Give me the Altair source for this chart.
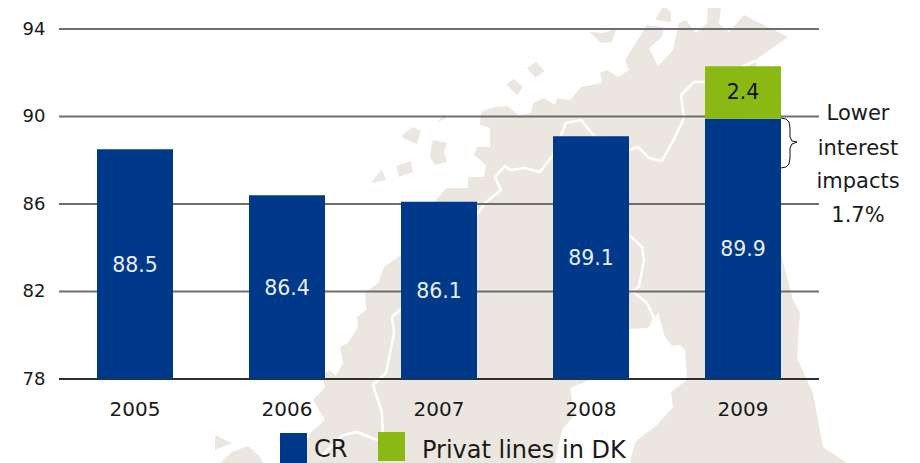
import altair as alt
import pandas as pd

years = ["2005", "2006", "2007", "2008", "2009"]
cr = [88.5, 86.4, 86.1, 89.1, 89.9]
dk = [None, None, None, None, 2.4]
ticks = [78, 82, 86, 90, 94]
note_lines = ["Lower", "interest", "impacts", "1.7%"]
NAVY, GREEN, LAND = "#00388A", "#8AB914", "#EBE7E0"
OX, OY = 59, 29
FONT = "DejaVu Sans"

mainland = [(788,37),(781,42),(758,58),(745,100),(765,170),(781,255),(793,300),(800,313),(797,358),(813,393),(823,447),(847,463),
 (630,463),(635,442),(657,425),(673,407),(671,392),(687,380),(685,350),(680,345),(672,346),(665,337),(658,312),(652,325),(647,328),(629,329),
 (590,380),(570,388),(575,415),(563,428),(558,447),(555,463),(300,463),(310,433),(325,420),(313,400),(325,387),(323,380),(325,373),(330,370),
 (336,376),(343,363),(340,347),(348,343),(358,327),(357,317),(366,310),(365,293),(378,283),(384,267),(401,255),(436,200),(446,188),(468,188),
 (468,177),(484,177),(486,165),(474,155),(477,147),(490,147),(490,128),(480,125),(481,112),(494,107),(508,106),(518,115),(531,113),(533,103),
 (544,98),(555,105),(557,98),(570,100),(581,87),(602,83),(600,73),(607,70),(618,77),(629,70),(625,60),(647,25),(664,27),(662,37),(649,48),
 (658,66),(673,50),(679,23),(686,20),(696,33),(707,23),(708,4),(721,5),(720,17),(718,23),(729,32),(744,15)]
islands = [
 [(436,123),(445,114),(446,118)],
 [(402,135),(413,127),(421,131),(417,144),(403,138)],
 [(433,140),(447,143),(444,152),(447,162),(435,165),(430,157),(431,148)],
 [(396,166),(411,161),(413,172),(399,177)],
 [(371,183),(382,169),(386,180)],
 [(506,84),(514,79),(523,87),(517,95)],
 [(527,68),(536,62),(545,71),(535,78)],
 [(590,32),(603,33),(616,29),(612,42),(601,43)],
 [(655,20),(664,5),(671,13),(671,22)],
 [(215,435),(232,443),(215,450)],
 [(220,463),(232,452),(248,446),(260,457),(263,463)],
]
borders = [
 [(758,60),(705,82),(694,82),(681,95),(684,118),(675,137),(662,161),(649,158),(638,147),(629,150),(610,148),(594,136),(581,120),(566,123),
  (553,155),(540,172),(525,168),(510,170),(505,166),(495,177),(501,190),(486,202),(420,290),(400,310),(392,317),(394,333),(386,373),(373,385),
  (382,413),(383,437),(377,440),(357,432),(343,435),(320,458)],
 [(629,235),(642,247),(644,260),(639,287),(632,291),(647,303),(654,318),(651,327)],
]
brace = [(781,118),(786,119),(789,122),(790,128),(790,137),(792,141),(797,142),(792,144),(790,148),(790,158),(789,164),(786,167),(781,168)]


def shift(pts):
    return [[x - OX, y - OY] for x, y in pts]


def polygon(pts):
    p = shift(pts)
    return {"type": "Feature", "properties": {}, "geometry": {"type": "Polygon", "coordinates": [p + [p[0]]]}}


def line(pts):
    return {"type": "Feature", "properties": {}, "geometry": {"type": "LineString", "coordinates": shift(pts)}}


def shapes(features, **mark):
    data = alt.InlineData(values={"type": "FeatureCollection", "features": features},
                          format=alt.DataFormat(type="json", property="features"))
    return alt.Chart(data).mark_geoshape(clip=False, **mark).project(type="identity", scale=1, translate=[0, 0])


land = shapes([polygon(mainland)] + [polygon(i) for i in islands], fill=LAND, stroke=None)
lines = shapes([line(b) for b in borders], fill=None, stroke="white", strokeWidth=2.5, strokeJoin="round")
brace_mark = shapes([line(brace)], fill=None, stroke="#111111", strokeWidth=1)

df = pd.DataFrame({"year": years, "cr": cr, "dk": dk})
x = alt.X("year:N", title=None, sort=years, scale=alt.Scale(paddingInner=0.5, paddingOuter=0.25),
          axis=alt.Axis(domain=False, ticks=False, labelAngle=0, labelFont=FONT, labelFontSize=20,
                        labelColor="#1a1a1a", labelPadding=20, zindex=1))
ys = alt.Scale(domain=[78, 94], nice=False, zero=False)
y_axis = alt.Axis(values=ticks, domain=False, ticks=False, grid=False, labelFont=FONT, labelFontSize=18,
                  labelColor="#1a1a1a", labelPadding=14, title=None, zindex=1)


def Y(field):
    return alt.Y(field, scale=ys, axis=y_axis, title=None)


grid = alt.Chart(pd.DataFrame({"t": [t for t in ticks if t != 78]})).mark_rule(color="#6e6e6e", strokeWidth=2).encode(y=Y("t:Q"))
axis0 = alt.Chart(pd.DataFrame({"t": [78]})).mark_rule(color="#2e2e2e", strokeWidth=2).encode(y=Y("t:Q"))

cr_bars = alt.Chart(df).transform_calculate(b="78").mark_bar(color=NAVY).encode(x=x, y=Y("cr:Q"), y2=alt.Y2("b:Q"))
dk_df = df.dropna(subset=["dk"])
dk_bars = alt.Chart(dk_df).transform_calculate(t="datum.cr+datum.dk").mark_bar(color=GREEN).encode(
    x=x, y=Y("cr:Q"), y2=alt.Y2("t:Q"))
cr_text = alt.Chart(df).transform_calculate(m="(78+datum.cr)/2", l="format(datum.cr,'.1f')").mark_text(
    color="#E8EEF6", font=FONT, fontSize=20.5, dy=1.5).encode(x=x, y=Y("m:Q"), text="l:N")
dk_text = alt.Chart(dk_df).transform_calculate(m="datum.cr+datum.dk/2", l="format(datum.dk,'.1f')").mark_text(
    color="#111111", font=FONT, fontSize=20.5, dy=1).encode(x=x, y=Y("m:Q"), text="l:N")

notes = alt.layer(*[
    alt.Chart(pd.DataFrame({"t": [s]})).mark_text(color="#1a1a1a", font=FONT, fontSize=21, align="center").encode(
        x=alt.value(858 - OX), y=alt.value(py - OY), text="t:N")
    for s, py in zip(note_lines, [114, 149, 182, 216])
])


def swatch(x0, x1, y0, y1, color):
    return alt.Chart(pd.DataFrame({"a": [0]})).mark_rect(color=color).encode(
        x=alt.value(x0 - OX), x2=alt.value(x1 - OX), y=alt.value(y0 - OY), y2=alt.value(y1 - OY))


def label(px, py, s):
    return alt.Chart(pd.DataFrame({"t": [s]})).mark_text(color="#1a1a1a", font=FONT, fontSize=24, align="left").encode(
        x=alt.value(px - OX), y=alt.value(py - OY), text="t:N")


legend = alt.layer(swatch(280, 307, 433, 463, NAVY), swatch(378, 405, 432, 461, GREEN),
                   label(314, 450, "CR"), label(422, 451, "Privat lines in DK"))

chart = alt.layer(
    land, lines, grid, axis0, cr_bars, dk_bars, cr_text, dk_text, brace_mark, notes, legend
).properties(
    width=760, height=350,
    padding={"left": 51, "top": 21, "right": 93, "bottom": 84},
    autosize=alt.AutoSizeParams(type="none"),
).configure_view(stroke=None)

chart.save("out.html", embed_options={"renderer": "svg", "actions": False})
